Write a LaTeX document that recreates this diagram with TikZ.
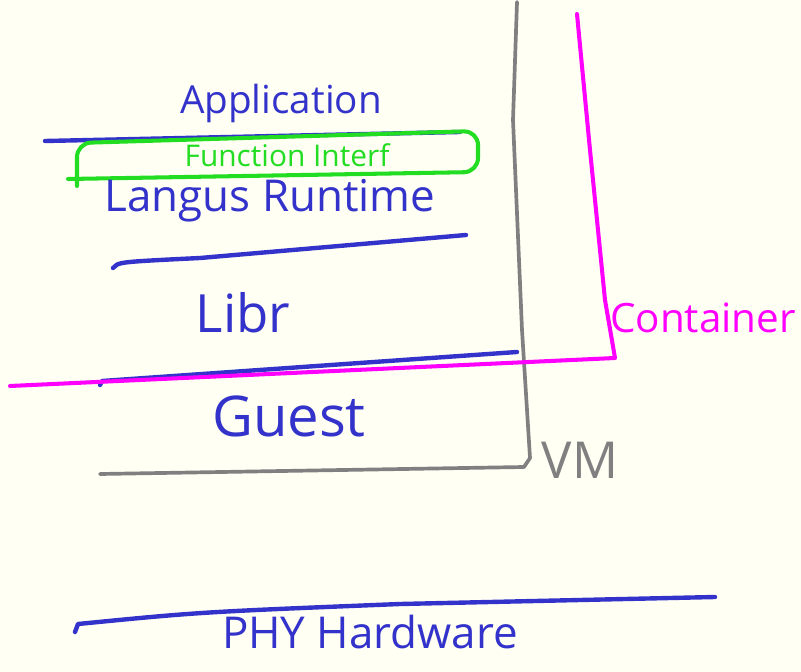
\documentclass[tikz,border=0pt]{standalone}
\usepackage{fontspec}
\setsansfont{Open Sans}
\usepackage{tikz}
\usetikzlibrary{positioning}
\definecolor{paper}{RGB}{255,255,243}
\definecolor{penblue}{RGB}{51,51,204}
\definecolor{pengray}{RGB}{128,128,128}
\definecolor{penpink}{RGB}{255,0,255}
\definecolor{pengreen}{RGB}{34,221,34}
\tikzset{
  stroke/.style = {line width=2.5pt, line cap=round, line join=round},
  ln_b/.style = {stroke, penblue},% layer line, blue
  ln_g/.style = {stroke, pengray, line width=2.1pt},% vm line, gray
  ln_p/.style = {stroke, penpink, line width=2.3pt},% container line, pink
  ln_f/.style = {stroke, pengreen, line width=2.3pt, rounded corners=8pt},% function box, green
  lbl/.style = {inner sep=0pt, font=\sffamily},
  lbl_b/.style = {lbl, penblue},
  lbl_g/.style = {lbl, pengray},
  lbl_p/.style = {lbl, penpink},
  lbl_f/.style = {lbl, pengreen}
}
\newcommand{\fsz}[1]{\fontsize{#1}{#1}\selectfont}
\begin{document}
\begin{tikzpicture}[x=0.02cm, y=-0.02cm]
        \fill [paper] (0,0) rectangle (801,672);
        \useasboundingbox (0,0) rectangle (801,672);
        % layers
        \draw [ln_b] (45,141) -- (460,132);
        \draw [ln_b] (113,268) .. controls (118,262) .. (200,258) -- (466,235);
        \draw [ln_b] (100,385) -- (102,381) -- (517,352);
        \draw [ln_b] (75,632) -- (78,624) .. controls (200,612) .. (400,604) -- (715,597);
        % vm
        \draw [ln_g] (517,2) -- (513,120) -- (522,330) -- (530,458) -- (524,467) -- (100,474);
        % container
        \draw [ln_p] (577,14) -- (590,150) -- (605,300) -- (615,358) -- (10,386);
        % function
        \draw [ln_f] (77,186) -- (77,143) -- (478,131) -- (478,172) -- (68,179);
        \node [lbl_b, font=\sffamily\fsz{22}] (app) at (281,103) {Application};
        \node [lbl_f, font=\sffamily\fsz{17}] (func) at (287,155) {Function Interf};
        \node [lbl_b, font=\sffamily\fsz{25}] (lang) at (270,201) {Langus Runtime};
        \node [lbl_b, font=\sffamily\fsz{30}] (libr) at (243,313) {Libr};
        \node [lbl_b, font=\sffamily\fsz{32}] (guest) at (289,416) {Guest};
        \node [lbl_b, font=\sffamily\fsz{25}] (phy) at (370,632) {PHY Hardware};
        \node [lbl_p, font=\sffamily\fsz{23}] (cont) at (703,318) {Container};
        \node [lbl_g, font=\sffamily\fsz{29}] (vm) at (580,460) {VM};
\end{tikzpicture}
\end{document}
